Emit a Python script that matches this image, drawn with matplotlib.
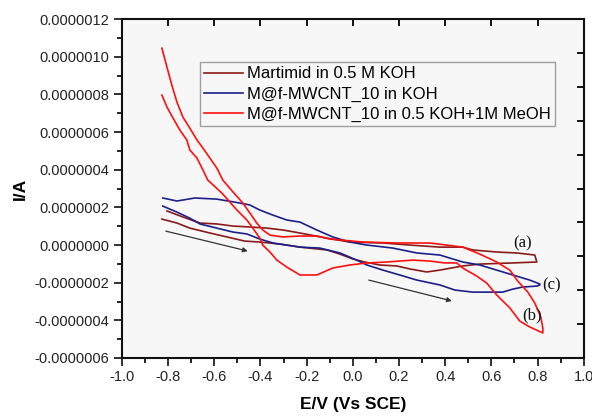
import matplotlib
matplotlib.use("Agg")
import matplotlib.pyplot as plt
from matplotlib.ticker import FuncFormatter, MultipleLocator
import numpy as np

# ---- data (E in V, I in units of 1e-7 A) ----
# Martimid in 0.5 M KOH  (a)
brown_fwd_E = [-0.805, -0.736, -0.662, -0.589, -0.519, -0.446, -0.372, -0.303, -0.229, -0.113,
               -0.013, 0.130, 0.247, 0.377, 0.476, 0.519, 0.623, 0.710, 0.788, 0.797]
brown_fwd_I = [1.81, 1.49, 1.17, 1.12, 1.01, 0.96, 0.90, 0.80, 0.64, 0.37,
               0.16, 0.11, 0.00, -0.11, -0.11, -0.26, -0.37, -0.42, -0.53, -0.90]
brown_rev_E = [0.797, 0.693, 0.550, 0.476, 0.377, 0.320, 0.247, 0.190, 0.117, 0.052, 0.000,
               -0.056, -0.113, -0.229, -0.316, -0.403, -0.468, -0.545, -0.619, -0.706, -0.762, -0.827]
brown_rev_I = [-0.90, -0.95, -1.01, -1.11, -1.33, -1.43, -1.27, -1.11, -1.06, -0.90, -0.74,
               -0.48, -0.26, -0.11, 0.05, 0.16, 0.21, 0.43, 0.64, 0.90, 1.17, 1.38]

# M@f-MWCNT_10 in KOH  (c)
blue_fwd_E = [-0.823, -0.762, -0.684, -0.589, -0.511, -0.446, -0.403, -0.346, -0.286, -0.229,
              -0.156, -0.087, -0.013, 0.061, 0.173, 0.277, 0.377, 0.476, 0.550, 0.623,
              0.693, 0.736, 0.766, 0.810]
blue_fwd_I = [2.50, 2.34, 2.50, 2.44, 2.28, 2.13, 1.86, 1.59, 1.33, 1.22,
              0.80, 0.43, 0.16, 0.00, -0.16, -0.42, -0.53, -0.90, -1.06, -1.33,
              -1.59, -1.75, -1.86, -2.07]
blue_rev_E = [0.810, 0.797, 0.736, 0.693, 0.649, 0.519, 0.442, 0.377, 0.277, 0.203, 0.130,
              0.061, 0.017, -0.056, -0.143, -0.229, -0.286, -0.346, -0.403, -0.459, -0.519,
              -0.589, -0.662, -0.706, -0.762, -0.823]
blue_rev_I = [-2.12, -2.18, -2.23, -2.34, -2.50, -2.50, -2.39, -2.12, -1.86, -1.59, -1.33,
              -1.06, -0.80, -0.42, -0.16, -0.11, 0.00, 0.11, 0.32, 0.59, 0.69,
              0.90, 1.12, 1.43, 1.75, 2.07]

# M@f-MWCNT_10 in 0.5 KOH+1M MeOH  (b)
red_fwd_E = [-0.827, -0.805, -0.784, -0.762, -0.736, -0.706, -0.675, -0.649, -0.619, -0.589,
             -0.563, -0.519, -0.476, -0.446, -0.416, -0.390, -0.359, -0.303, -0.229, -0.156,
             -0.100, 0.043, 0.190, 0.333, 0.476, 0.550, 0.623, 0.680, 0.714, 0.758,
             0.788, 0.814, 0.823, 0.823]
red_fwd_I = [10.46, 9.45, 8.50, 7.60, 6.80, 6.21, 5.58, 5.15, 4.62, 4.09,
             3.45, 2.82, 2.23, 1.70, 1.17, 0.80, 0.53, 0.43, 0.48, 0.48,
             0.32, 0.16, 0.11, 0.11, -0.11, -0.48, -0.90, -1.33, -1.91, -2.50,
             -3.08, -3.82, -4.41, -4.67]
red_rev_E = [0.823, 0.766, 0.723, 0.680, 0.623, 0.580, 0.537, 0.476, 0.450, 0.398, 0.333,
             0.260, 0.147, 0.061, -0.013, -0.087, -0.156, -0.229, -0.286, -0.329, -0.359,
             -0.390, -0.403, -0.433, -0.459, -0.502, -0.567, -0.628, -0.649, -0.675, -0.706,
             -0.719, -0.749, -0.779, -0.805, -0.827]
red_rev_I = [-4.67, -4.35, -4.04, -3.34, -2.65, -2.02, -1.65, -1.22, -0.95, -0.95, -0.85,
             -0.80, -0.90, -0.95, -1.06, -1.22, -1.59, -1.59, -1.17, -0.80, -0.37,
             0.00, 0.37, 0.90, 1.33, 1.86, 2.76, 3.45, 3.98, 4.62, 5.05,
             5.58, 6.11, 6.75, 7.33, 7.97]

labels = ["Martimid in 0.5 M KOH", "M@f-MWCNT_10 in KOH", "M@f-MWCNT_10 in 0.5 KOH+1M MeOH"]
colors = ["#8a1a1a", "#1b1f8a", "#ff1010"]

curve_tags = ["(a)", "(c)", "(b)"]
tag_E = [0.736, 0.861, 0.775]
tag_I = [0.11, -2.12, -3.75]

arrow_start_E = [-0.81, 0.069]
arrow_start_I = [0.74, -1.86]
arrow_end_E = [-0.455, 0.429]
arrow_end_I = [-0.32, -2.97]

right_ticks = [10.2, 8.4, 6.6, 4.8, 3.0, 1.2, -0.6, -2.4, -4.2]

SCALE = 1e-7

plt.rcParams['font.family'] = ['Liberation Sans', 'DejaVu Sans']

fig = plt.figure(figsize=(5.92, 4.17), dpi=100)
ax = fig.add_axes([0.206, 0.1415, 0.780, 0.8125])
ax.set_facecolor("#f7f7f7")

series = [
    (brown_fwd_E + brown_rev_E, brown_fwd_I + brown_rev_I),
    (blue_fwd_E + blue_rev_E, blue_fwd_I + blue_rev_I),
    (red_fwd_E + red_rev_E, red_fwd_I + red_rev_I),
]
for (E, I), c, lab in zip(series, colors, labels):
    ax.plot(E, np.array(I) * SCALE, color=c, lw=1.2, label=lab)

for t, x, y in zip(curve_tags, tag_E, tag_I):
    ax.text(x, y * SCALE, t, family=['Liberation Serif'], fontsize=12,
            ha='center', va='center', color='#111111')

for x0, y0, x1, y1 in zip(arrow_start_E, arrow_start_I, arrow_end_E, arrow_end_I):
    ax.annotate("", xy=(x1, y1 * SCALE), xytext=(x0, y0 * SCALE),
                arrowprops=dict(arrowstyle='-|>', color='#333333', lw=0.9,
                                mutation_scale=7, shrinkA=0, shrinkB=0))

ax.set_xlim(-1.0, 1.0)
ax.set_ylim(-6e-7, 1.2e-6)
ax.xaxis.set_major_locator(MultipleLocator(0.2))
ax.xaxis.set_minor_locator(MultipleLocator(0.1))
ax.yaxis.set_major_locator(MultipleLocator(2e-7))
ax.yaxis.set_minor_locator(MultipleLocator(1e-7))

def yfmt(v, pos):
    s = f"{v:.7f}"
    if s == "-0.0000000":
        s = "0.0000000"
    return s

def xfmt(v, pos):
    s = f"{v:.1f}"
    if s == "-0.0":
        s = "0.0"
    return s

ax.yaxis.set_major_formatter(FuncFormatter(yfmt))
ax.xaxis.set_major_formatter(FuncFormatter(xfmt))

ax.tick_params(axis='both', which='major', direction='out', length=6, width=1.3,
               labelsize=10.5, colors='#222222', pad=3)
ax.tick_params(axis='both', which='minor', direction='out', length=3.5, width=1.2)
ax.tick_params(top=False, right=False, which='both')

for sp in ax.spines.values():
    sp.set_linewidth(1.5)
    sp.set_color('#111111')

# top ticks (inward, major only)
axt = ax.secondary_xaxis('top')
axt.set_xticks(np.arange(-0.8, 0.81, 0.2))
axt.tick_params(direction='in', length=5, width=1.3, labeltop=False)
axt.spines['top'].set_visible(False)

# right ticks (inward)
axr = ax.secondary_yaxis('right')
axr.set_yticks(np.array(right_ticks) * SCALE)
axr.tick_params(direction='in', length=5, width=1.3, labelright=False)
axr.spines['right'].set_visible(False)

ax.set_xlabel("E/V (Vs SCE)", fontsize=12.5, fontweight='bold', labelpad=9)
ax.set_ylabel("I/A", fontsize=12.5, fontweight='bold', labelpad=5)

leg = ax.legend(loc='upper left', bbox_to_anchor=(0.169, 0.873), borderaxespad=0,
                fontsize=12, frameon=True, fancybox=False, handlelength=2.35,
                handletextpad=0.25, labelspacing=0.32, borderpad=0.25,
                edgecolor='#a0a0a0', facecolor='#f7f7f7', framealpha=1)
leg.get_frame().set_linewidth(1.0)

fig.savefig("out.png", dpi=100, facecolor='white')
